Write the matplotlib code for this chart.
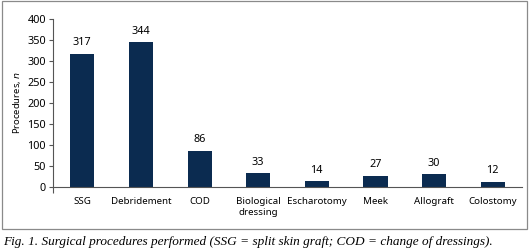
import matplotlib.pyplot as plt
from matplotlib.patches import Rectangle

categories = ["SSG", "Debridement", "COD", "Biological\ndressing", "Escharotomy",
              "Meek", "Allograft", "Colostomy"]
counts = [317, 344, 86, 33, 14, 27, 30, 12]
yticks = [0, 50, 100, 150, 200, 250, 300, 350, 400]

bar_color = '#0b2b50'
sans = ['Noto Sans', 'DejaVu Sans']

fig = plt.figure(figsize=(5.29, 2.52), dpi=100)
ax = fig.add_axes([0.100, 0.258, 0.887, 0.667])

x = range(len(categories))
bars = ax.bar(x, counts, width=0.41, color=bar_color)
for xi, v in zip(x, counts):
    ax.annotate(str(v), (xi, v), xytext=(0, 4), textcoords='offset points',
                ha='center', va='bottom', fontsize=7.8, family=sans)

ax.set_xlim(-0.5, len(categories) - 0.5)
ax.set_ylim(0, 400)
ax.set_yticks(yticks)
ax.set_yticklabels([str(t) for t in yticks], fontsize=7.8, family=sans)
ax.set_xticks(list(x))
ax.set_xticklabels(categories, fontsize=7, family=sans, linespacing=1.35)
ax.tick_params(axis='x', length=0, pad=7)
ax.tick_params(axis='y', length=3, width=0.8, color='#555555', pad=2)
ax.set_xticks([-0.5], minor=True)
ax.tick_params(axis='x', which='minor', length=4, width=0.8, color='#555555')

ax.set_ylabel("Procedures, $\\it{n}$", fontsize=6.8, family=sans, labelpad=3)

for s in ['top', 'right']:
    ax.spines[s].set_visible(False)
for s in ['left', 'bottom']:
    ax.spines[s].set_color('#555555')
    ax.spines[s].set_linewidth(0.8)

# outer frame around the chart
fig.patches.append(Rectangle((2 / 529, 1 - 229 / 252), 525 / 529, 228 / 252,
                             transform=fig.transFigure, fill=False,
                             edgecolor='#8a8a8a', linewidth=0.9))

fig.text(3 / 529, 1 - 242 / 252,
         "Fig. 1. Surgical procedures performed (SSG = split skin graft; COD = change of dressings).",
         fontsize=9.5, family='Liberation Serif', style='italic', va='center', ha='left')

fig.savefig('out.png', dpi=100)
